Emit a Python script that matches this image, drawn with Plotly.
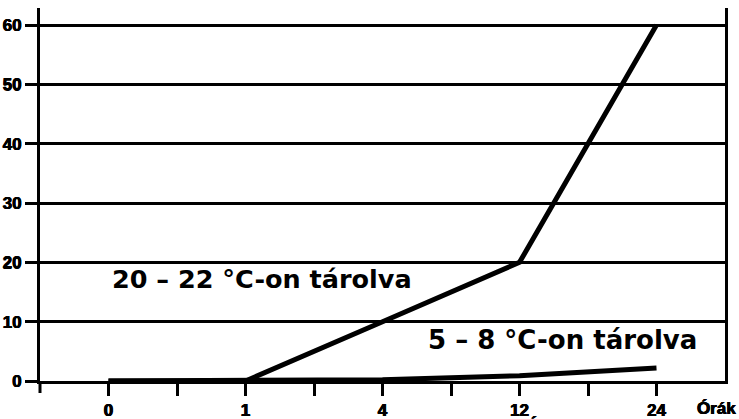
import plotly.graph_objects as go

# Data
hours = ["0", "1", "4", "12", "24"]
room_temp = [0, 0, 10, 20, 60]       # 20 – 22 °C-on tárolva
cold_temp = [0, 0, 0.2, 0.9, 2.2]    # 5 – 8 °C-on tárolva
y_ticks = [0, 10, 20, 30, 40, 50, 60]
series_labels = ["20 – 22 °C-on tárolva", "5 – 8 °C-on tárolva"]
x_title = "Órák"

xpos = list(range(len(hours)))
tickvals = []
ticktext = []
for i, h in enumerate(hours):
    tickvals.append(i)
    ticktext.append(h)
    if i < len(hours) - 1:
        tickvals.append(i + 0.5)
        ticktext.append("")

HEAVY = "0.4px 0 0 black, -0.4px 0 0 black, 0 0.3px 0 black"
LBL = dict(family="Liberation Sans", size=17, color="black", weight="bold", shadow=HEAVY)
BIG = dict(family="DejaVu Sans", size=25.5, color="black", weight="bold")
BIG2 = dict(family="DejaVu Sans", size=26, color="black", weight="bold")

fig = go.Figure()
fig.add_trace(go.Scatter(x=xpos, y=cold_temp, mode="lines",
                         line=dict(color="black", width=5), showlegend=False,
                         hoverinfo="skip"))
fig.add_trace(go.Scatter(x=xpos, y=room_temp, mode="lines",
                         line=dict(color="black", width=5), showlegend=False,
                         hoverinfo="skip"))

fig.update_layout(
    width=739, height=419,
    margin=dict(l=40, r=14, t=8, b=38, autoexpand=False),
    paper_bgcolor="white", plot_bgcolor="white",
    xaxis=dict(range=[-0.5, 4.5], tickvals=tickvals, ticktext=ticktext,
               showgrid=False, zeroline=False, automargin=False,
               showline=True, linecolor="black", linewidth=2.5,
               ticks="outside", ticklen=12, tickwidth=3, tickcolor="black",
               tickfont=LBL),
    yaxis=dict(range=[0, 62.87], tickvals=y_ticks,
               showgrid=True, gridcolor="black", gridwidth=2.5,
               zeroline=False, automargin=False,
               showline=True, linecolor="black", linewidth=3, mirror=True,
               ticks="outside", ticklen=12, tickwidth=2.5, tickcolor="black",
               tickfont=LBL),
    shapes=[dict(type="line", xref="paper", yref="paper",
                 x0=0, x1=0, y0=0, y1=-12 / 373,
                 line=dict(color="black", width=3))],
    annotations=[
        dict(text=series_labels[0], xref="paper", yref="paper",
             x=0.3248, y=0.273, showarrow=False, font=BIG,
             xanchor="center", yanchor="middle"),
        dict(text=series_labels[1], xref="paper", yref="paper",
             x=0.7628, y=0.109, showarrow=False, font=BIG2,
             xanchor="center", yanchor="middle"),
        dict(text=x_title, xref="paper", yref="paper",
             x=0.988, y=-0.0724, showarrow=False, font=LBL,
             xanchor="center", yanchor="middle"),
        dict(text="Á", xref="paper", yref="paper",
             x=0.72, y=-0.118, showarrow=False, font=LBL,
             xanchor="center", yanchor="middle"),
    ],
)

fig.write_html("out.html", config={"displayModeBar": False},
               post_script="document.body.style.margin='0';document.body.style.overflow='hidden';")
